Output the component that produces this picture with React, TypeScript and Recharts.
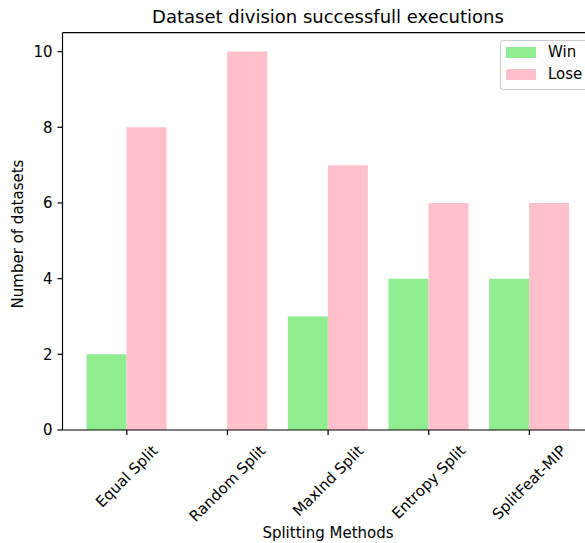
import React from "react";
import {
  BarChart,
  Bar,
  XAxis,
  YAxis,
  ReferenceLine,
} from "recharts";

// Data
const methods = ["Equal Split", "Random Split", "MaxInd Split", "Entropy Split", "SplitFeat-MIP"];
const winCounts = [2, 0, 3, 4, 4];
const loseCounts = [8, 10, 7, 6, 6];
const yTicks = [0, 2, 4, 6, 8, 10];

const data = methods.map((name, i) => ({ name, win: winCounts[i], lose: loseCounts[i] }));

const FONT = "DejaVu Sans, sans-serif";
const FS = 15;

function measure(text: string) {
  const c = document.createElement("canvas").getContext("2d");
  if (!c) return text.length * FS * 0.6;
  c.font = `${FS}px DejaVu Sans`;
  return c.measureText(text).width;
}

// rotated tick, bounding box centred under the tick like matplotlib
const RotatedTick = (props: any) => {
  const { x, y, payload } = props;
  const w = measure(payload.value);
  const h = FS * 1.164;
  const cy = y + 5 + (w + h) * 0.3536;
  return (
    <text
      x={x}
      y={cy}
      textAnchor="middle"
      dominantBaseline="central"
      transform={`rotate(-45, ${x}, ${cy})`}
      fontFamily={FONT}
      fontSize={FS}
      fill="#000"
    >
      {payload.value}
    </text>
  );
};

const LegendBox = () => (
  <div
    style={{
      position: "absolute",
      left: 500,
      top: 40,
      width: 110,
      height: 48,
      border: "1px solid #cccccc",
      borderRadius: 3,
      background: "rgba(255,255,255,0.8)",
      fontFamily: FONT,
      fontSize: FS,
      color: "#000",
    }}
  >
    <div style={{ position: "absolute", left: 5, top: 6, width: 30, height: 11, background: "#90EE90" }} />
    <div style={{ position: "absolute", left: 47, top: 2, lineHeight: "18px" }}>Win</div>
    <div style={{ position: "absolute", left: 5, top: 28, width: 30, height: 11, background: "#FFC0CB" }} />
    <div style={{ position: "absolute", left: 47, top: 24, lineHeight: "18px" }}>Lose</div>
  </div>
);

export default function App() {
  return (
    <div
      style={{
        position: "absolute",
        left: 0,
        top: 0,
        width: 585,
        height: 543,
        overflow: "hidden",
        background: "#fff",
        fontFamily: FONT,
      }}
    >
      {/* Title */}
      <div
        style={{
          position: "absolute",
          top: 6,
          left: 0,
          width: 656,
          textAlign: "center",
          fontSize: 18,
          lineHeight: "22px",
          color: "#000",
        }}
      >
        Dataset division successfull executions
      </div>

      {/* Y label */}
      <div
        style={{
          position: "absolute",
          left: 18,
          top: 234,
          transform: "translate(-50%, -50%) rotate(-90deg)",
          fontSize: FS,
          whiteSpace: "nowrap",
          color: "#000",
        }}
      >
        Number of datasets
      </div>

      {/* X label */}
      <div
        style={{
          position: "absolute",
          top: 523,
          left: 0,
          width: 656,
          textAlign: "center",
          fontSize: FS,
          lineHeight: "20px",
          color: "#000",
        }}
      >
        Splitting Methods
      </div>

      <BarChart
        width={600}
        height={543}
        data={data}
        margin={{ top: 32.7, right: 6.3, left: 22.5, bottom: 43 }}
        barCategoryGap="10%"
        barGap={0}
      >
        <XAxis
          dataKey="name"
          height={70}
          padding={{ left: 14, right: 14 }}
          axisLine={{ stroke: "#000", strokeWidth: 1.2 }}
          tickLine={{ stroke: "#000", strokeWidth: 1.2 }}
          tickSize={5}
          interval={0}
          tick={<RotatedTick />}
        />
        <YAxis
          width={40}
          domain={[0, 10.5]}
          ticks={yTicks}
          axisLine={{ stroke: "#000", strokeWidth: 1.2 }}
          tickLine={{ stroke: "#000", strokeWidth: 1.2 }}
          tickSize={5}
          tickMargin={5}
          tick={{ fill: "#000", fontSize: FS, fontFamily: FONT }}
          allowDataOverflow
        />
        <ReferenceLine y={10.5} stroke="#000" strokeWidth={1.2} />
        <Bar dataKey="win" name="Win" fill="#90EE90" isAnimationActive={false} />
        <Bar dataKey="lose" name="Lose" fill="#FFC0CB" isAnimationActive={false} />
      </BarChart>

      <LegendBox />
    </div>
  );
}
